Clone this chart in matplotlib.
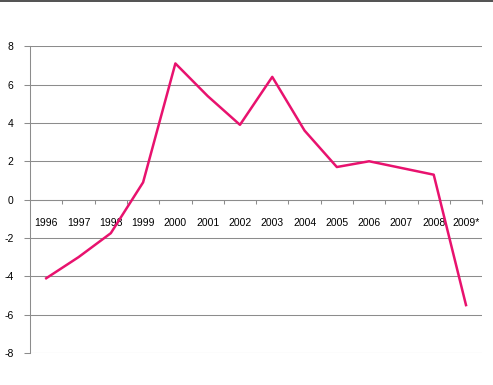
import matplotlib
matplotlib.use("Agg")
import matplotlib.pyplot as plt
from matplotlib.lines import Line2D

# Data
years = ['1996', '1997', '1998', '1999', '2000', '2001', '2002',
         '2003', '2004', '2005', '2006', '2007', '2008', '2009*']
values = [-4.1, -3.0, -1.75, 0.9, 7.1, 5.4, 3.9, 6.4, 3.6, 1.7, 2.0, 1.65, 1.3, -5.5]

plt.rcParams['font.family'] = ['Liberation Sans', 'DejaVu Sans']
plt.rcParams['axes.unicode_minus'] = False

fig = plt.figure(figsize=(4.93, 3.85), dpi=100)
ax = fig.add_axes([0.061, 0.083, 0.917, 0.797])

x = list(range(len(years)))
ax.plot(x, values, color='#E8126E', linewidth=1.8, zorder=3)

ax.set_xlim(-0.5, len(years) - 0.5)
ax.set_ylim(-8, 8)
ax.set_yticks(range(-8, 9, 2))
ax.grid(axis='y', color='#8c8c8c', linewidth=0.75)
ax.set_axisbelow(True)

for s in ['top', 'right']:
    ax.spines[s].set_visible(False)
ax.spines['left'].set_color('#8c8c8c')
ax.spines['left'].set_linewidth(0.75)
ax.spines['bottom'].set_position(('data', 0))
ax.spines['bottom'].set_color('#8c8c8c')
ax.spines['bottom'].set_linewidth(0.75)

# boundary ticks on the zero line, category labels as minor ticks
ax.set_xticks([i + 0.5 for i in x[:-1]] + [len(years) - 0.5])
ax.set_xticklabels([])
ax.tick_params(axis='x', which='major', direction='out', length=3,
               color='#8c8c8c', width=0.75)
ax.set_xticks(x, minor=True)
ax.set_xticklabels(years, minor=True)
ax.tick_params(axis='x', which='minor', length=0, pad=13, labelsize=7.5)
ax.tick_params(axis='y', length=4, color='#8c8c8c', width=0.75,
               labelsize=7.5, pad=8)

fig.add_artist(Line2D([0, 1], [0.997, 0.997], color='#333333',
                      linewidth=1.2, transform=fig.transFigure))

fig.savefig('out.png', dpi=100)
